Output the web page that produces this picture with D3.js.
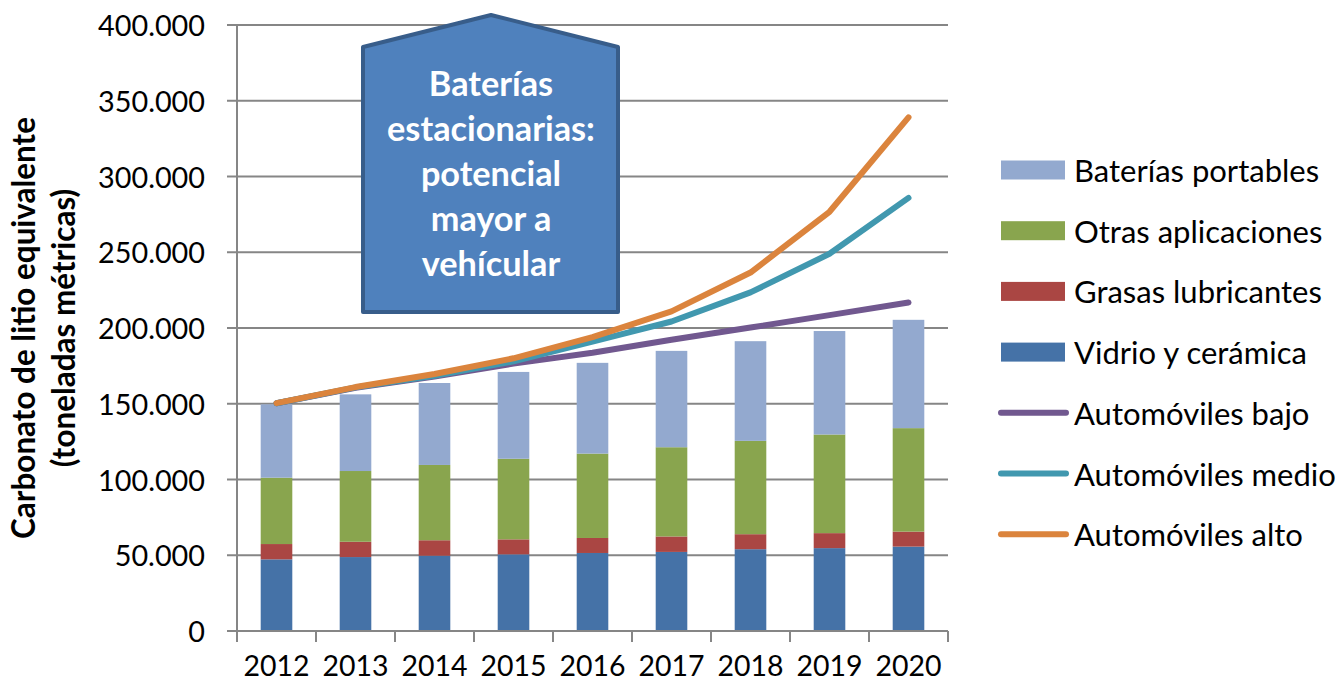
<!doctype html>
<html lang="es">
<head>
<meta charset="utf-8">
<title>Carbonato de litio equivalente</title>
<script src="https://cdn.jsdelivr.net/npm/d3@7"></script>
<style>
  body { margin: 0; background: #fff; }
  svg { display: block; font-family: Lato, "Open Sans", sans-serif; }
  .grid line { stroke: #868686; stroke-width: 2px; }
  .axis path, .axis line { stroke: #868686; stroke-width: 2px; }
</style>
</head>
<body>
<svg width="1340" height="687"></svg>
<script>
// --- data (toneladas métricas) ---
var years = ["2012", "2013", "2014", "2015", "2016", "2017", "2018", "2019", "2020"];
var vidrio    = [47300, 48800, 49700, 50600, 51500, 52200, 54000, 54700, 55700];
var grasas    = [10100, 10100, 10200, 9900, 9900, 10200, 9900, 9900, 9900];
var otras     = [43800, 46700, 49700, 53200, 55700, 58900, 61600, 65100, 68300];
var portables = [48400, 50600, 54100, 57300, 59900, 63600, 65800, 68300, 71500];
var autoBajo  = [150300, 160500, 168000, 176500, 183700, 192200, 200300, 208500, 216800];
var autoMedio = [150300, 160800, 168500, 178000, 191000, 204300, 223500, 249000, 285900];
var autoAlto  = [150400, 161000, 169600, 180000, 194000, 211000, 236600, 276700, 339000];
var yTicks = [0, 50000, 100000, 150000, 200000, 250000, 300000, 350000, 400000];

var barSeries = [
  { name: "Vidrio y cerámica", values: vidrio, color: "#4572A7" },
  { name: "Grasas lubricantes", values: grasas, color: "#AA4643" },
  { name: "Otras aplicaciones", values: otras, color: "#89A54E" },
  { name: "Baterías portables", values: portables, color: "#93A9CF" }
];
var lineSeries = [
  { name: "Automóviles bajo", values: autoBajo, color: "#71588F" },
  { name: "Automóviles medio", values: autoMedio, color: "#4198AF" },
  { name: "Automóviles alto", values: autoAlto, color: "#DB843D" }
];

var svg = d3.select("svg");
var pLeft = 237, pRight = 948, pTop = 25, pBottom = 631;

var fmt = d3.formatLocale({ decimal: ",", thousands: ".", grouping: [3], currency: ["", ""] }).format(",");

var x = d3.scaleBand().domain(years).range([pLeft, pRight]).paddingInner(0.6).paddingOuter(0.3);
var y = d3.scaleLinear().domain([0, 400000]).range([pBottom, pTop]);

// scale font size of a group so a reference text gets a target width
function fit(sel, refNode, width) {
  var size = parseFloat(d3.select(refNode).style("font-size"));
  var w = refNode.getComputedTextLength();
  sel.style("font-size", (size * width / w) + "px");
}

// gridlines
svg.append("g").attr("class", "grid")
  .selectAll("line").data(yTicks.slice(1)).enter().append("line")
  .attr("x1", pLeft).attr("x2", pRight)
  .attr("y1", d => y(d)).attr("y2", d => y(d));

// stacked bars
var stack = d3.stack().keys(d3.range(barSeries.length)).value((d, k) => barSeries[k].values[d]);
var layers = stack(d3.range(years.length));
svg.append("g").selectAll("g").data(layers).enter().append("g")
  .attr("fill", (d, i) => barSeries[i].color)
  .selectAll("rect").data(d => d).enter().append("rect")
  .attr("x", (d, i) => x(years[i]))
  .attr("width", x.bandwidth())
  .attr("y", d => y(d[1]))
  .attr("height", d => y(d[0]) - y(d[1]));

// axes
var yAxis = svg.append("g").attr("class", "axis");
yAxis.append("line").attr("x1", pLeft).attr("x2", pLeft).attr("y1", pTop).attr("y2", pBottom);
yAxis.selectAll(".tk").data(yTicks).enter().append("line")
  .attr("x1", pLeft - 10).attr("x2", pLeft).attr("y1", d => y(d)).attr("y2", d => y(d));
var yLab = svg.append("g").selectAll("text").data(yTicks).enter().append("text")
  .attr("x", 205).attr("y", d => y(d))
  .attr("text-anchor", "end").attr("dominant-baseline", "central")
  .style("font-size", "28px").attr("fill", "#000")
  .text(d => fmt(d));
fit(yLab, yLab.nodes()[8], 107);

var xAxis = svg.append("g").attr("class", "axis");
xAxis.append("line").attr("x1", pLeft).attr("x2", pRight).attr("y1", pBottom).attr("y2", pBottom);
var bounds = years.map(d => x(d) - x.step() * x.paddingInner() / 2).concat([pRight]);
xAxis.selectAll(".tk").data(bounds).enter().append("line")
  .attr("x1", d => d).attr("x2", d => d).attr("y1", pBottom).attr("y2", pBottom + 11);
var xLab = svg.append("g").selectAll("text").data(years).enter().append("text")
  .attr("x", d => x(d) + x.bandwidth() / 2).attr("y", 665)
  .attr("text-anchor", "middle").attr("dominant-baseline", "central")
  .style("font-size", "28px").attr("fill", "#000")
  .text(d => d);
fit(xLab, xLab.nodes()[0], 66);

// y title
var yTitle = svg.append("g").selectAll("text")
  .data(["Carbonato de litio equivalente", "(toneladas métricas)"]).enter().append("text")
  .attr("transform", (d, i) => "translate(" + (23 + i * 40) + "," + ((pTop + pBottom) / 2) + ") rotate(-90)")
  .attr("text-anchor", "middle").attr("dominant-baseline", "central")
  .style("font-size", "26px").style("font-weight", "bold").attr("fill", "#000")
  .text(d => d);
fit(yTitle, yTitle.nodes()[0], 422);

// lines
var line = d3.line().x((d, i) => x(years[i]) + x.bandwidth() / 2).y(d => y(d));
svg.append("g").selectAll("path").data(lineSeries).enter().append("path")
  .attr("d", d => line(d.values))
  .attr("fill", "none").attr("stroke", d => d.color)
  .attr("stroke-width", 6).attr("stroke-linecap", "round").attr("stroke-linejoin", "round");

// annotation box
var box = svg.append("g");
box.append("path")
  .attr("d", "M491,15 L618,47 L618,312 L363,312 L363,47 Z")
  .attr("fill", "#4F81BD").attr("stroke", "#385D8A").attr("stroke-width", 4)
  .attr("stroke-linejoin", "round");
var boxText = box.selectAll("text")
  .data(["Baterías", "estacionarias:", "potencial", "mayor a", "vehícular"]).enter().append("text")
  .attr("x", 491).attr("y", (d, i) => 82 + i * 45)
  .attr("text-anchor", "middle").attr("dominant-baseline", "central")
  .style("font-size", "28px").style("font-weight", "bold").attr("fill", "#fff")
  .text(d => d);
fit(boxText, boxText.nodes()[1], 208);

// legend
var legendItems = barSeries.slice().reverse().map(d => ({ name: d.name, color: d.color, type: "bar" }))
  .concat(lineSeries.map(d => ({ name: d.name, color: d.color, type: "line" })));
var lg = svg.append("g").selectAll("g").data(legendItems).enter().append("g")
  .attr("transform", (d, i) => "translate(0," + (170 + i * 60.7) + ")");
lg.filter(d => d.type === "bar").append("rect")
  .attr("x", 1001).attr("y", -9.5).attr("width", 64).attr("height", 19)
  .attr("fill", d => d.color);
lg.filter(d => d.type === "line").append("line")
  .attr("x1", 1001).attr("x2", 1066).attr("y1", 0).attr("y2", 0)
  .attr("stroke", d => d.color).attr("stroke-width", 6).attr("stroke-linecap", "round");
var lgText = lg.append("text")
  .attr("x", 1074).attr("y", 0).attr("dominant-baseline", "central")
  .style("font-size", "28px").attr("fill", "#000")
  .text(d => d.name);
fit(lgText, lgText.nodes()[5], 262);
</script>
</body>
</html>
